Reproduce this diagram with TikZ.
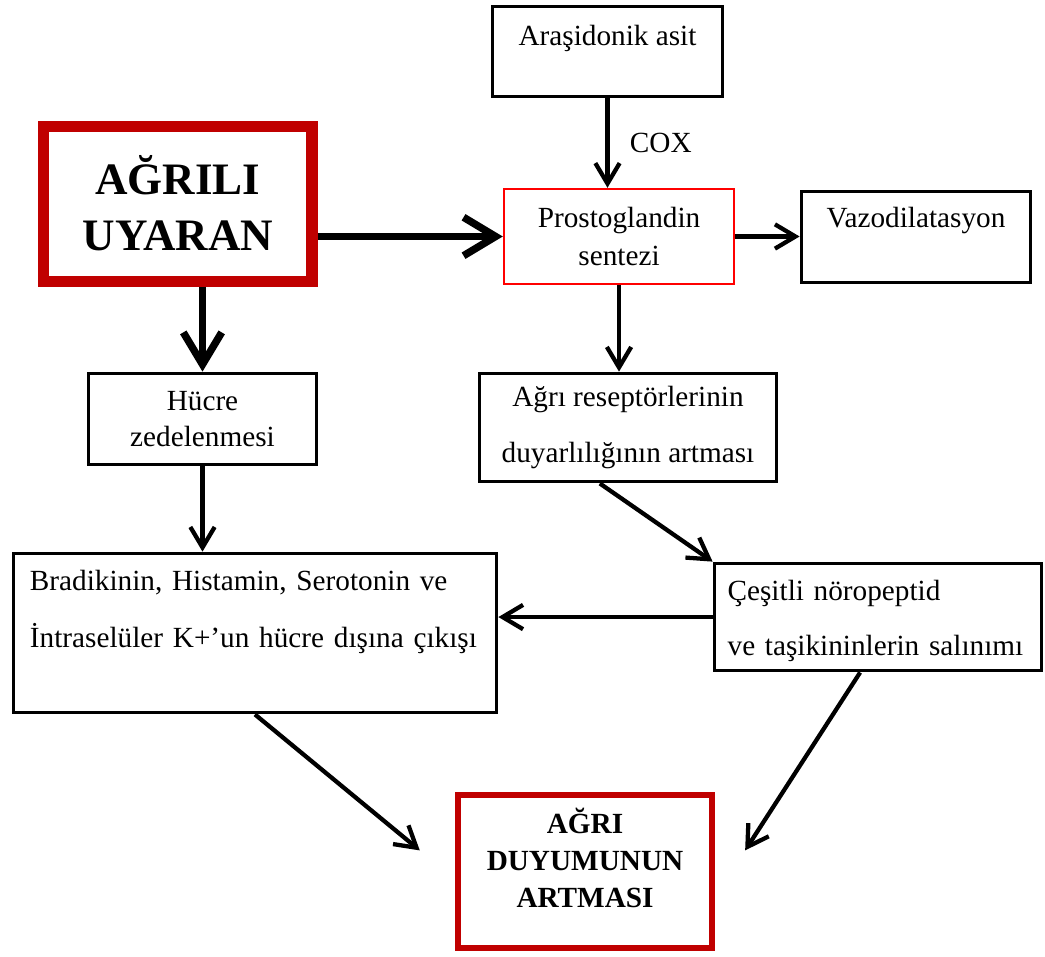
\documentclass[tikz,border=0pt]{standalone}
\usepackage{fontspec}
\setmainfont{Liberation Serif}
\usetikzlibrary{arrows.meta}
\definecolor{darkred}{HTML}{C00000}
\begin{document}
\begin{tikzpicture}[>={Straight Barb[length=3.2mm,width=3.8mm]}, font=\fontsize{13}{16.5}\selectfont,
  plainbox/.style={draw, rectangle, line width=1.7pt, align=center},
  arr/.style={->, line width=1.9pt},
  bigarr/.style={-{Straight Barb[length=5mm,width=6mm]}, line width=3.3pt}]
\useasboundingbox (0,0) rectangle (16.328,-14.9375);
\node[plainbox, minimum width=3.594cm, inner ysep=0pt, text height=0.602cm, text depth=0.805cm] (aras) at (9.492,-0.805) {Araşidonik asit};
\node[plainbox, draw=red, line width=1.1pt, minimum width=3.594cm, minimum height=1.484cm] (prost) at (9.672,-3.695) {Prostoglandin\\sentezi};
\node[plainbox, minimum width=3.578cm, inner ysep=0pt, text height=0.570cm, text depth=0.852cm] (vazo) at (14.3125,-3.703) {Vazodilatasyon};
\node[plainbox, draw=darkred, line width=4.9pt, minimum width=4.188cm, minimum height=2.422cm, font=\fontsize{20}{25}\selectfont\bfseries] (uyaran) at (2.781,-3.180) {AĞRILI\\UYARAN};
\node[plainbox, minimum width=3.5625cm, minimum height=1.422cm, font=\fontsize{13}{15.6}\selectfont] (hucre) at (3.164,-6.547) {Hücre\\zedelenmesi};
\node[plainbox, minimum width=4.641cm, minimum height=1.6875cm, font=\fontsize{13}{25.3}\selectfont] (resep) at (9.8125,-6.680) {Ağrı reseptörlerinin\\duyarlılığının artması};
\node[plainbox, align=left, text width=7.031cm, inner xsep=0.258cm, inner ysep=0pt, text height=0.570cm, text depth=1.914cm, font=\fontsize{13}{25.5}\selectfont] (brad) at (3.984,-9.891) {Bradikinin, Histamin, Serotonin ve\\İntraselüler K+’un hücre dışına çıkışı};
\node[plainbox, align=left, text width=4.7cm, inner xsep=0.2045cm, inner ysep=0pt, text height=0.570cm, text depth=1.102cm, font=\fontsize{13}{24.5}\selectfont] (cesit) at (13.719,-9.641) {Çeşitli nöropeptid\\ve taşikininlerin salınımı};
\node[plainbox, draw=darkred, line width=2.7pt, text width=3.6cm, inner xsep=0.1845cm, inner ysep=0pt, text height=0.594cm, text depth=1.797cm, font=\fontsize{13}{16.5}\selectfont\bfseries] (agri) at (9.141,-13.617) {AĞRI\\DUYUMUNUN\\ARTMASI};
\draw[bigarr] (uyaran.east |- prost.west) -- (prost.west);
\draw[bigarr] (hucre.north |- uyaran.south) -- (hucre.north);
\draw[arr] (aras.south) -- (aras.south |- prost.north) node[midway, right=0.2cm] (cox) {COX};
\draw[arr] (prost.east) -- (vazo.west |- prost.east);
\draw[arr] (prost.south) -- (prost.south |- resep.north);
\draw[arr] (hucre.south) -- (hucre.south |- brad.north);
\draw[arr] ([xshift=-0.44cm]resep.south) -- (cesit.north west);
\draw[arr] (cesit.west) -- (brad.east |- cesit.west);
\draw[arr] (brad.south) -- ([shift={(-0.55,0.33)}]agri.west);
\draw[arr] ([xshift=-0.28cm]cesit.south) -- ([shift={(0.47,0.33)}]agri.east);
\end{tikzpicture}
\end{document}
